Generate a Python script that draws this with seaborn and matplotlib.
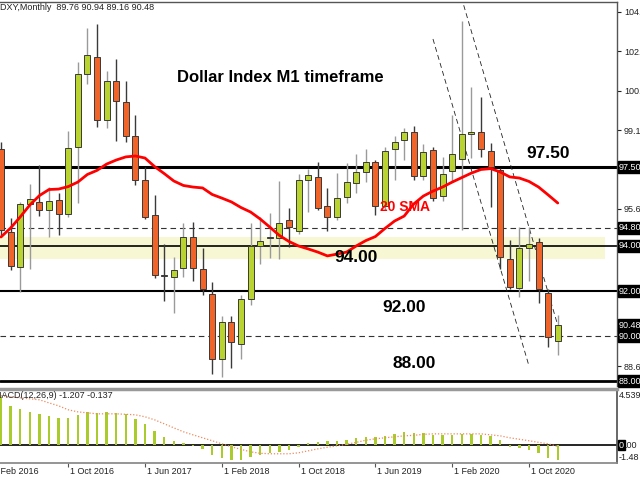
import matplotlib
matplotlib.use('Agg')
import matplotlib.pyplot as plt
import matplotlib.transforms as mtransforms
import seaborn as sns
import numpy as np
import pandas as pd

# DXY monthly candles, Mar 2016 .. Jan 2021
months = pd.date_range('2016-03-01', '2021-01-01', freq='MS')
opens = [98.30, 94.62, 93.05, 95.87, 95.95, 95.60, 96.05, 95.42, 98.40, 101.64,
         102.40, 99.60, 101.33, 100.40, 98.90, 96.93, 95.38, 92.70, 92.62, 93.02,
         94.40, 92.98, 91.87, 88.98, 90.62, 89.64, 91.64, 94.00, 94.36, 94.36,
         95.16, 94.67, 96.93, 97.07, 95.78, 95.29, 96.18, 96.80, 97.29, 97.73,
         95.78, 98.31, 98.71, 99.07, 97.11, 98.27, 96.22, 97.33, 97.87, 98.98,
         99.07, 98.22, 97.38, 93.42, 92.13, 93.91, 94.18, 91.91, 89.76]
highs = [98.62, 95.24, 95.95, 96.76, 97.60, 96.60, 96.36, 99.10, 102.18, 103.69,
         103.87, 101.78, 102.31, 101.33, 99.82, 97.50, 96.27, 94.09, 93.51, 95.02,
         95.07, 93.90, 92.40, 90.90, 90.89, 91.82, 95.00, 95.29, 95.47, 96.89,
         95.69, 97.20, 97.42, 97.73, 96.58, 97.24, 97.69, 98.09, 98.31, 97.80,
         98.40, 98.89, 99.24, 99.33, 98.53, 98.40, 97.95, 99.82, 104.00, 101.07,
         100.62, 98.58, 97.47, 94.27, 94.84, 94.84, 94.36, 92.10, 90.94]
lows = [94.50, 92.95, 91.96, 93.00, 95.33, 94.40, 94.50, 95.30, 95.90, 101.20,
        99.30, 99.24, 98.67, 98.62, 96.71, 95.20, 92.60, 91.56, 91.02, 92.62,
        92.44, 91.82, 88.31, 88.18, 88.58, 88.98, 91.40, 93.20, 93.47, 93.42,
        93.96, 94.53, 95.51, 95.60, 94.67, 95.16, 95.91, 96.36, 96.84, 95.38,
        95.60, 96.93, 97.82, 96.93, 96.93, 96.00, 96.00, 96.90, 94.71, 97.90,
        97.96, 95.73, 93.00, 92.09, 91.73, 92.44, 91.47, 89.51, 89.16]
closes = [94.70, 93.11, 95.87, 96.10, 95.60, 96.00, 95.42, 98.36, 101.64, 102.49,
          99.60, 101.33, 100.44, 98.90, 96.93, 95.29, 92.71, 92.65, 92.93, 94.40,
          93.02, 92.09, 88.98, 90.62, 89.73, 91.64, 94.00, 94.22, 94.36, 95.02,
          94.84, 96.93, 97.16, 95.69, 95.29, 96.13, 96.84, 97.29, 97.73, 95.78,
          98.22, 98.62, 99.07, 97.11, 98.18, 96.13, 97.20, 98.09, 98.98, 99.07,
          98.31, 97.51, 93.51, 92.18, 93.91, 94.09, 92.09, 89.96, 90.48]
sma20 = [94.40, 94.80, 95.29, 95.82, 96.24, 96.51, 96.53, 96.64, 96.84, 97.18,
         97.36, 97.64, 97.82, 97.96, 98.00, 97.91, 97.53, 97.22, 96.89, 96.69,
         96.62, 96.58, 96.29, 96.13, 95.96, 95.71, 95.51, 95.20, 94.84, 94.47,
         94.20, 94.00, 93.87, 93.73, 93.56, 93.64, 93.73, 94.00, 94.24, 94.42,
         94.78, 95.11, 95.33, 95.87, 96.22, 96.44, 96.62, 96.84, 97.04, 97.24,
         97.40, 97.44, 97.29, 97.07, 97.02, 96.87, 96.62, 96.27, 95.91]

# MACD(12,26,9) panel
macd_main = [3.90, 3.17, 2.93, 2.68, 2.52, 2.36, 2.20, 2.20, 2.44, 2.68,
             2.60, 2.68, 2.60, 2.52, 2.11, 1.71, 1.14, 0.65, 0.33, 0.16,
             -0.08, -0.33, -0.81, -1.06, -1.22, -1.22, -0.98, -0.81, -0.65, -0.57,
             -0.41, -0.16, 0.16, 0.24, 0.33, 0.33, 0.41, 0.57, 0.65, 0.65,
             0.73, 0.89, 1.06, 0.98, 0.98, 0.81, 0.81, 0.81, 0.89, 0.89,
             0.81, 0.73, 0.41, -0.16, -0.24, -0.41, -0.65, -1.06, -1.207]
macd_signal = [3.98, 3.90, 3.82, 3.74, 3.66, 3.41, 3.17, 2.85, 2.68, 2.60,
               2.52, 2.52, 2.52, 2.48, 2.44, 2.28, 2.03, 1.71, 1.38, 1.06,
               0.81, 0.57, 0.33, 0.08, -0.16, -0.37, -0.57, -0.69, -0.73, -0.73,
               -0.73, -0.65, -0.49, -0.33, -0.20, -0.08, 0.04, 0.20, 0.37, 0.49,
               0.57, 0.65, 0.73, 0.77, 0.85, 0.89, 0.89, 0.89, 0.89, 0.89,
               0.89, 0.81, 0.73, 0.57, 0.45, 0.33, 0.20, 0.08, -0.137]

# support / resistance levels drawn on the chart
solid_levels = [97.50, 94.00, 92.00, 88.00]
solid_widths = [2.2, 1.2, 1.5, 2.0]
dashed_levels = [94.80, 90.00]
zone_low, zone_high = 93.42, 94.40
channel_1 = ([45.0, 55.0], [103.2, 88.67])
channel_2 = ([48.2, 57.9], [104.7, 90.62])

# price scale (labels hidden under the level boxes are left out)
price_ticks = [104.4, 102.65, 100.9, 99.15, 95.65, 92.15, 88.65]
price_tick_labels = ['104.4', '102.6', '100.9', '99.15', '95.65', '92.15', '88.65']
boxed_prices = [97.50, 94.80, 94.00, 92.00, 90.48, 90.00, 88.00]

date_ticks = [-1, 7, 15, 23, 31, 39, 47, 55]
date_labels = ['1 Feb 2016', '1 Oct 2016', '1 Jun 2017', '1 Feb 2018',
               '1 Oct 2018', '1 Jun 2019', '1 Feb 2020', '1 Oct 2020']

sns.set_theme(style='white')
plt.rcParams['font.family'] = ['Liberation Sans', 'DejaVu Sans']

GREEN = '#b9d431'
ORANGE = '#f0642a'

fig = plt.figure(figsize=(6.4, 4.8), dpi=100)
W, H = 640, 480
ax = fig.add_axes([0, 1 - 386 / H, 617 / W, 384 / H])
ax2 = fig.add_axes([0, 1 - 463 / H, 617 / W, 74 / H])

x = np.arange(len(months))
o = np.array(opens)
c = np.array(closes)
up = c >= o

# yellow zone
ax.fill_between([-0.2, 62.9], zone_low, zone_high, color='#f7f7d3', lw=0, zorder=1)

for lvl, lw in zip(solid_levels, solid_widths):
    ax.axhline(lvl, color='black', lw=lw, zorder=2)
for lvl in dashed_levels:
    ax.axhline(lvl, color='#333333', lw=0.8, ls=(0, (5, 3.5)), zorder=2)

for xs, ys in (channel_1, channel_2):
    ax.plot(xs, ys, color='#222222', lw=0.6, ls=(0, (6, 4)), zorder=2)

# candles
wick_cols = np.where(up, '#9a9a9a', '#3a3a3a')
ax.vlines(x, lows, highs, colors=wick_cols, lw=1.0, zorder=3)
body_bottom = np.minimum(o, c)
body_height = np.maximum(np.abs(c - o), 0.04)
ax.bar(x[up], body_height[up], bottom=body_bottom[up], width=0.64,
       color=GREEN, edgecolor='#3a3a3a', linewidth=0.7, zorder=4)
ax.bar(x[~up], body_height[~up], bottom=body_bottom[~up], width=0.64,
       color=ORANGE, edgecolor='#3a3a3a', linewidth=0.7, zorder=4)

sns.lineplot(x=x, y=sma20, ax=ax, color='red', lw=2.0, zorder=5)

ax.set_xlim(-0.104, 64.17)
ax.set_ylim(87.778, 104.844)
ax.set_xticks([])
ax.yaxis.tick_right()
ax.set_yticks(price_ticks)
ax.set_yticklabels(price_tick_labels)
ax.tick_params(axis='y', right=True, length=3, width=0.8, pad=2, labelsize=6.5,
               colors='#222222')
for side in ('left', 'bottom'):
    ax.spines[side].set_visible(False)
for side in ('top', 'right'):
    ax.spines[side].set_color('#555555')
    ax.spines[side].set_linewidth(1.0)

for p in boxed_prices:
    ax.text(1.0 + 2 / 617, p, f'{p:.2f}', transform=ax.get_yaxis_transform(),
            color='white', fontsize=6.5, va='center', ha='left', clip_on=False,
            zorder=10, bbox=dict(boxstyle='square,pad=0.15', fc='black', ec='black'))

# annotations
fig.text(0, 1 - 8 / H, 'DXY,Monthly  89.76 90.94 89.16 90.48', fontsize=6.5,
         va='center', ha='left', color='#222222')
fig.text(280 / W, 1 - 77 / H, 'Dollar Index M1 timeframe', fontsize=12,
         fontweight='bold', ha='center', va='center', color='black')
for txt, px, py in [('97.50', 548, 153), ('94.00', 356, 257),
                    ('92.00', 404, 307), ('88.00', 414, 363)]:
    fig.text(px / W, 1 - py / H, txt, fontsize=12.5, fontweight='bold',
             ha='center', va='center', color='black')
fig.text(405 / W, 1 - 207 / H, '20 SMA', fontsize=10, fontweight='bold',
         ha='center', va='center', color='red')

# MACD panel
ax2.bar(x, macd_main, width=0.25, color='#a9cc2c', lw=0, zorder=3)
sns.lineplot(x=x, y=macd_signal, ax=ax2, color='#f08a5d', lw=0.9,
             ls=(0, (1, 1.5)), zorder=4)
ax2.axhline(0, color='black', lw=1.2, zorder=2)
ax2.set_xlim(-0.104, 64.17)
ax2.set_ylim(-1.48, 4.539)
ax2.set_yticks([])
ax2.set_xticks([t for t in date_ticks if t >= 0])
ax2.set_xticklabels([])
ax2.tick_params(axis='x', bottom=True, length=3, width=0.8, colors='#555555')
ax2.spines['left'].set_visible(False)
ax2.spines['top'].set_color('#999999')
ax2.spines['top'].set_linewidth(2.5)
ax2.spines['right'].set_color('#555555')
ax2.spines['bottom'].set_color('#888888')

trans = mtransforms.blended_transform_factory(ax2.transData, fig.transFigure)
for t, lab in zip(date_ticks, date_labels):
    ax2.text(t + 0.2, 1 - 471 / H, lab, transform=trans, fontsize=6.5,
             ha='left', va='center', color='#222222', clip_on=False)

fig.text(-6 / W, 1 - 396 / H, 'MACD(12,26,9) -1.207 -0.137', fontsize=6.5,
         ha='left', va='center', color='#222222')
fig.text(619 / W, 1 - 395 / H, '4.539', fontsize=6.5, ha='left', va='center',
         color='#222222')
fig.text(619 / W, 1 - 458 / H, '-1.48', fontsize=6.5, ha='left', va='center',
         color='#222222')
fig.text(619 / W, 1 - 445 / H, '0', fontsize=6.5, ha='left', va='center',
         color='white', bbox=dict(boxstyle='square,pad=0.1', fc='black', ec='black'))
fig.text(624.5 / W, 1 - 445 / H, '.00', fontsize=6.5, ha='left', va='center',
         color='#222222')

fig.savefig('out.png', dpi=100)
